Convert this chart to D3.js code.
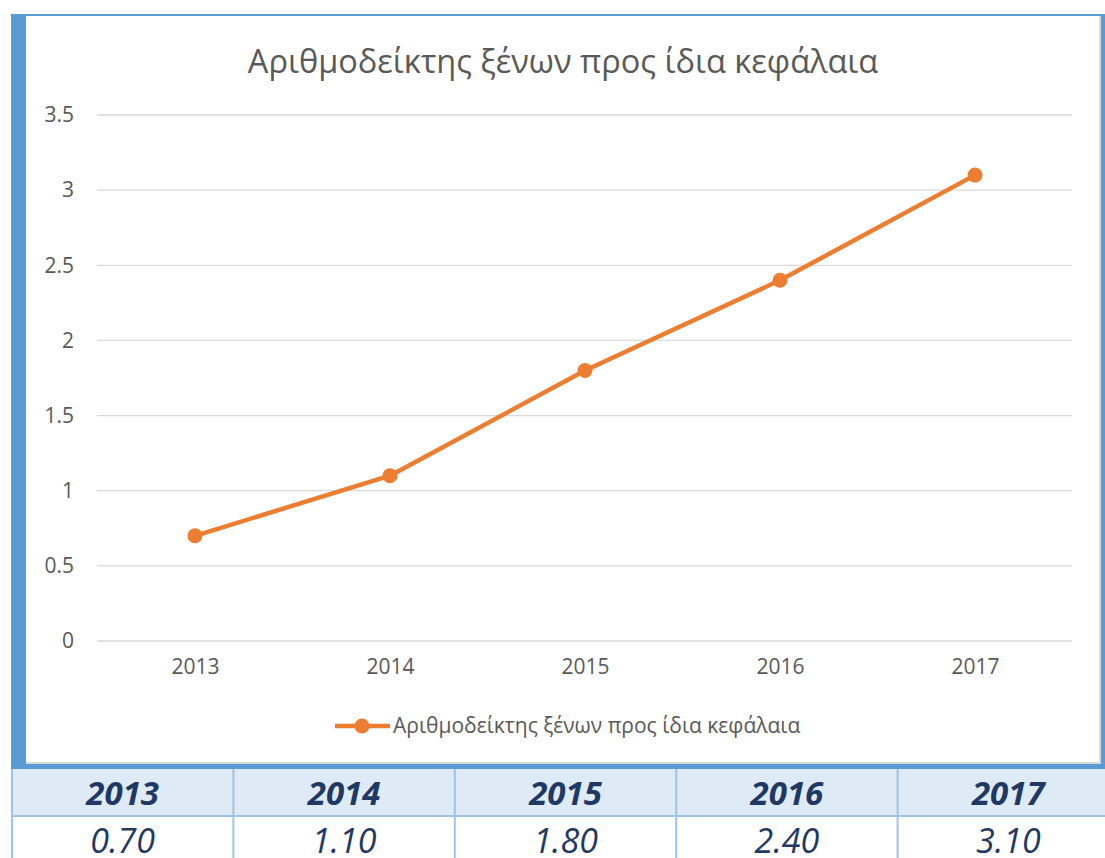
<!DOCTYPE html>
<html>
<head>
<meta charset="utf-8">
<script src="https://cdn.jsdelivr.net/npm/d3@7"></script>
<style>
  body { margin: 0; background: #fff; }
  svg { display: block; }
</style>
</head>
<body>
<svg id="chart" width="1105" height="858"></svg>
<script>
var years = ["2013", "2014", "2015", "2016", "2017"];
var values = [0.7, 1.1, 1.8, 2.4, 3.1];
var yTicks = [0, 0.5, 1, 1.5, 2, 2.5, 3, 3.5];
var tableValues = ["0.70", "1.10", "1.80", "2.40", "3.10"];
var seriesName = "Αριθμοδείκτης ξένων προς ίδια κεφάλαια";

var svg = d3.select("#chart");
var font = "'Open Sans', 'Noto Sans', sans-serif";
var grey = "#595959";
var orange = "#ed7d31";

// blue frame behind the chart box
svg.append("rect").attr("x", 11).attr("y", 14).attr("width", 1094).attr("height", 755)
   .attr("fill", "#5b9bd5");
svg.append("rect").attr("x", 26).attr("y", 16).attr("width", 1075).attr("height", 748)
   .attr("fill", "#d9d9d9");
svg.append("rect").attr("x", 26).attr("y", 16).attr("width", 1073).attr("height", 746)
   .attr("fill", "#fff");

var x = d3.scalePoint().domain(years).range([195, 975]);
var y = d3.scaleLinear().domain([0, 3.5]).range([641, 115]);

// gridlines
svg.selectAll(".grid")
   .data(yTicks)
   .enter()
   .append("line")
   .attr("x1", 97).attr("x2", 1072)
   .attr("y1", function(d) { return y(d); })
   .attr("y2", function(d) { return y(d); })
   .attr("stroke", "#d9d9d9")
   .attr("stroke-width", 1.3);

var yAxis = svg.append("g")
   .attr("transform", "translate(80,0)")
   .call(d3.axisLeft(y).tickValues(yTicks).tickSize(0).tickPadding(0)
     .tickFormat(function(d) { return String(d); }));
yAxis.select(".domain").remove();
yAxis.selectAll("text").attr("fill", grey).style("font-family", font).style("font-size", "21px")
   .attr("x", -6);

var xAxis = svg.append("g")
   .attr("transform", "translate(0,659)")
   .call(d3.axisBottom(x).tickSize(0).tickPadding(0));
xAxis.select(".domain").remove();
xAxis.selectAll("text").attr("fill", grey).style("font-family", font).style("font-size", "21px");

// title
svg.append("text")
   .attr("x", 563).attr("y", 73)
   .attr("text-anchor", "middle")
   .attr("fill", grey)
   .style("font-family", font).style("font-size", "32.5px")
   .text(seriesName);

var line = d3.line()
   .x(function(d, i) { return x(years[i]); })
   .y(function(d) { return y(d); });

svg.append("path")
   .datum(values)
   .attr("d", line)
   .attr("fill", "none")
   .attr("stroke", orange)
   .attr("stroke-width", 4.5)
   .attr("stroke-linejoin", "round");

svg.selectAll(".dot")
   .data(values)
   .enter()
   .append("circle")
   .attr("cx", function(d, i) { return x(years[i]); })
   .attr("cy", function(d) { return y(d); })
   .attr("r", 7.5)
   .attr("fill", orange);

// legend
svg.append("line").attr("x1", 335).attr("x2", 390).attr("y1", 726).attr("y2", 726)
   .attr("stroke", orange).attr("stroke-width", 4.5);
svg.append("circle").attr("cx", 362).attr("cy", 726).attr("r", 7.5).attr("fill", orange);
svg.append("text")
   .attr("x", 393).attr("y", 733)
   .attr("fill", grey)
   .style("font-family", font).style("font-size", "21px")
   .text(seriesName);

// table below the chart
var colW = 221.4, tableX = 12, headY = 769, headH = 47;
var navy = "#1f3864", lineC = "#9dc3e6";

svg.append("rect").attr("x", tableX).attr("y", headY).attr("width", colW * 5).attr("height", headH)
   .attr("fill", "#deeaf6");

svg.selectAll(".vline")
   .data(d3.range(6))
   .enter()
   .append("line")
   .attr("x1", function(d) { return tableX + d * colW; })
   .attr("x2", function(d) { return tableX + d * colW; })
   .attr("y1", headY).attr("y2", 858)
   .attr("stroke", lineC).attr("stroke-width", 2);

svg.append("line").attr("x1", tableX).attr("x2", 1105).attr("y1", headY + headH).attr("y2", headY + headH)
   .attr("stroke", lineC).attr("stroke-width", 2);

svg.selectAll(".thead")
   .data(years)
   .enter()
   .append("text")
   .attr("x", function(d, i) { return tableX + (i + 0.5) * colW; })
   .attr("y", 805)
   .attr("text-anchor", "middle")
   .attr("fill", navy)
   .style("font-family", font).style("font-size", "33px")
   .style("font-weight", "bold").style("font-style", "italic")
   .text(function(d) { return d; });

svg.selectAll(".tval")
   .data(tableValues)
   .enter()
   .append("text")
   .attr("x", function(d, i) { return tableX + (i + 0.5) * colW; })
   .attr("y", 853)
   .attr("text-anchor", "middle")
   .attr("fill", navy)
   .style("font-family", font).style("font-size", "34px")
   .style("font-style", "italic")
   .text(function(d) { return d; });
</script>
</body>
</html>
